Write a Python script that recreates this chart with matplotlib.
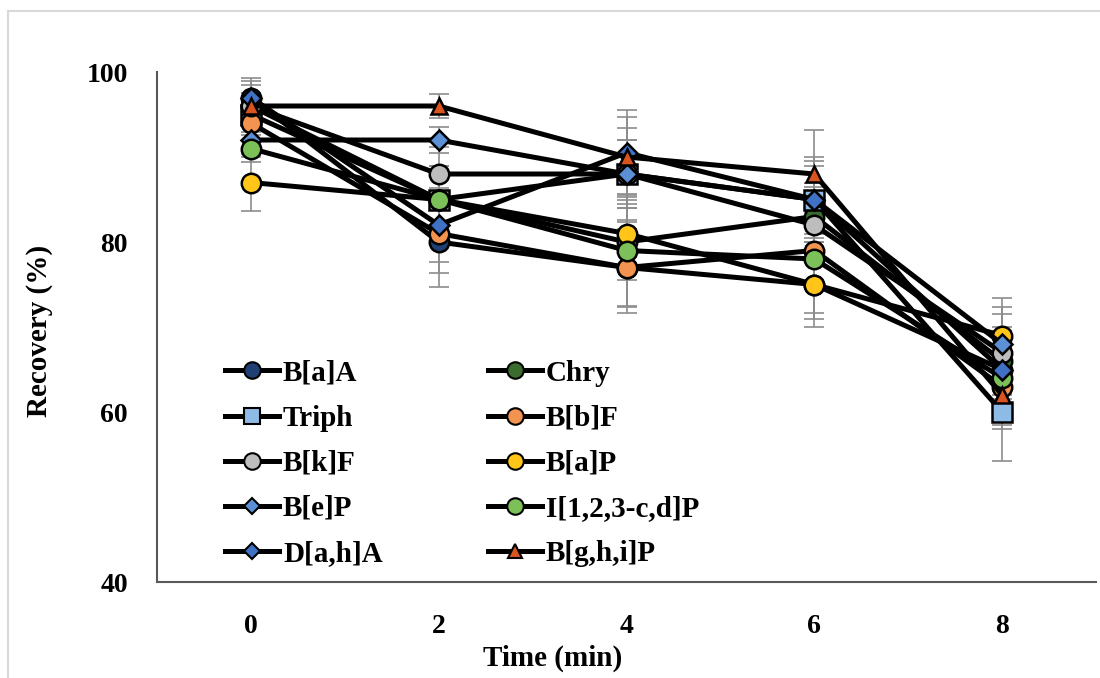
#Recovery of PAHs over time, line plot with error bars
import matplotlib.pyplot as plt#for plotting
from matplotlib.lines import Line2D

time = [0, 2, 4, 6, 8]
names = ['B[a]A', 'Chry', 'Triph', 'B[b]F', 'B[k]F', 'B[a]P', 'B[e]P', 'I[1,2,3-c,d]P', 'D[a,h]A', 'B[g,h,i]P']

#Recovery (%) values
baa = [97, 80, 77, 75, 65]
chry = [96, 85, 80, 83, 66]
triph = [95, 85, 88, 85, 60]
bbf = [94, 81, 77, 79, 63]
bkf = [96, 88, 88, 82, 67]
bap = [87, 85, 81, 75, 69]
bep = [92, 92, 88, 85, 68]
icdp = [91, 85, 79, 78, 64]
daha = [97, 82, 90.5, 85, 65]
bghip = [96, 96, 90, 88, 62]

#error bar sizes
baa_err = [2.3, 5.3, 4.5, 4.0, 4.5]
chry_err = [1.5, 4.0, 4.5, 4.0, 4.0]
triph_err = [2.0, 3.5, 5.4, 5.0, 5.8]
bbf_err = [2.0, 4.6, 5.3, 4.5, 4.5]
bkf_err = [2.5, 3.2, 4.0, 4.5, 4.5]
bap_err = [3.3, 4.0, 4.0, 5.0, 4.4]
bep_err = [2.0, 1.5, 4.0, 4.5, 4.4]
icdp_err = [1.6, 4.0, 6.7, 6.3, 4.0]
daha_err = [2.0, 4.3, 5.0, 4.0, 3.5]
bghip_err = [1.5, 1.4, 4.7, 5.2, 4.0]

values = [baa, chry, triph, bbf, bkf, bap, bep, icdp, daha, bghip]
errors = [baa_err, chry_err, triph_err, bbf_err, bkf_err, bap_err, bep_err, icdp_err, daha_err, bghip_err]
colors = ['#203F73', '#3B6B2E', '#8DBBE6', '#F2944F', '#BDBDBD', '#FFC619', '#5B8FD6', '#7CC05A', '#3F72C4', '#D9541E']
markers = ['o', 'o', 's', 'o', 'o', 'o', 'D', 'o', 'D', '^']
msizes = [14, 14, 14, 14, 14, 14, 10, 14, 10, 12]

plt.rcParams['font.family'] = ['Liberation Serif', 'DejaVu Serif']
plt.rcParams['font.weight'] = 'bold'

fig = plt.figure(figsize=(11, 6.78), dpi=100)
ax = fig.add_axes([157/1100, 96/678, 939/1100, 510/678])

#error bars first so the lines sit on top
for v, e in zip(values, errors):
    ax.errorbar(time, v, yerr=e, fmt='none', ecolor='#8C8C8C', elinewidth=1.2, capsize=7, capthick=1.2, zorder=1)

for v, c, m, s in zip(values, colors, markers, msizes):
    ax.plot(time, v, color='black', linewidth=3.6, marker=m, markersize=s,
            markerfacecolor=c, markeredgecolor='black', markeredgewidth=1.8, zorder=2)

ax.set_xlim(-1, 9)
ax.set_ylim(40, 100)
ax.set_xticks(time)
ax.set_yticks([40, 60, 80, 100])
ax.tick_params(length=0, labelsize=20)
ax.tick_params(axis='y', pad=21)
ax.tick_params(axis='x', pad=23)
for s in ['top', 'right']:
    ax.spines[s].set_visible(False)
for s in ['left', 'bottom']:
    ax.spines[s].set_color('#595959')
    ax.spines[s].set_linewidth(1.5)

fig.text(40/1100, 1-331/678, 'Recovery (%)', rotation=90, ha='center', va='center', fontsize=21, fontweight='bold')
fig.text(553/1100, 1-658/678, 'Time (min)', ha='center', va='center', fontsize=21, fontweight='bold')

#legend filled row by row like the original (matplotlib fills by column)
order = [0, 2, 4, 6, 8, 1, 3, 5, 7, 9]
handles = []
labels = []
for i in order:
    handles.append(Line2D([], [], color='black', linewidth=3.6, marker=markers[i], markersize=msizes[i]*0.85,
                          markerfacecolor=colors[i], markeredgecolor='black', markeredgewidth=1.5))
    labels.append(names[i])
ax.legend(handles, labels, ncol=2, loc='upper left', bbox_to_anchor=(0.072, 0.436), frameon=False,
          borderpad=0, borderaxespad=0, fontsize=21, handlelength=1.85, handletextpad=0.15,
          columnspacing=3.6, labelspacing=0.62)

#light grey frame around the chart area
fig.add_artist(plt.Line2D([8/1100, 8/1100], [0, 1-11/678], color='#D9D9D9', linewidth=1.5))
fig.add_artist(plt.Line2D([8/1100, 1], [1-11/678, 1-11/678], color='#D9D9D9', linewidth=1.5))

fig.savefig('out.png', dpi=100, facecolor='white')
